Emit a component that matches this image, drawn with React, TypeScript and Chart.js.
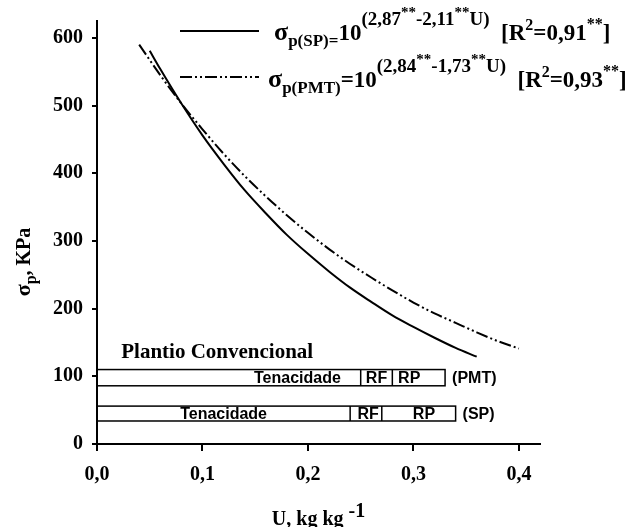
import React, { useEffect, useRef } from "react";
import { Chart, registerables } from "chart.js";

Chart.register(...registerables);

// ---- data ----
const uSP = [0.05, 0.06, 0.08, 0.1, 0.12, 0.14, 0.16, 0.18, 0.2, 0.22, 0.24, 0.26, 0.28, 0.3, 0.32, 0.34, 0.36];
const sigmaSP = [581, 554, 503, 456, 414, 375, 341, 309, 281, 255, 231, 210, 190, 173, 157, 142, 129];

const uPMT = [0.04, 0.06, 0.08, 0.1, 0.12, 0.14, 0.16, 0.18, 0.2, 0.22, 0.24, 0.26, 0.28, 0.3, 0.32, 0.34, 0.36, 0.38, 0.4];
const sigmaPMT = [590, 545, 503, 465, 429, 396, 366, 338, 312, 288, 266, 246, 227, 209, 193, 179, 165, 152, 141];

const xTicks = [0, 0.1, 0.2, 0.3, 0.4];
const xTickLabels = ["0,0", "0,1", "0,2", "0,3", "0,4"];
const yTicks = [0, 100, 200, 300, 400, 500, 600];
const xMax = 0.42;
const yMax = 625;

const zoneNames = ["Tenacidade", "RF", "RP"];
const zoneRowNames = ["(PMT)", "(SP)"];
const zoneBreaksPMT = [0, 0.25, 0.28, 0.33];
const zoneBreaksSP = [0, 0.24, 0.27, 0.34];
const zoneLabelUPMT = [0.19, 0.265, 0.296];
const zoneLabelUSP = [0.12, 0.257, 0.31];
const zoneBottom = [86, 34];
const zoneTop = [110, 56];

const panelTitle = "Plantio Convencional";

const SERIF = '"Liberation Serif", "Times New Roman", serif';
const SANS = '"Liberation Sans", Arial, sans-serif';

type Seg = { t: string; s: number; dy?: number; f?: string };

function drawRich(ctx: CanvasRenderingContext2D, x: number, y: number, segs: Seg[], align: "left" | "center") {
  let total = 0;
  for (const sg of segs) {
    ctx.font = `bold ${sg.s}px ${sg.f || SERIF}`;
    total += ctx.measureText(sg.t).width;
  }
  let cx = align === "center" ? x - total / 2 : x;
  ctx.textAlign = "left";
  ctx.textBaseline = "alphabetic";
  for (const sg of segs) {
    ctx.font = `bold ${sg.s}px ${sg.f || SERIF}`;
    ctx.fillText(sg.t, cx, y + (sg.dy || 0));
    cx += ctx.measureText(sg.t).width;
  }
}

const F = 23;
const SUB = 17;
const SUP = 19;
const SS = 15;
const R2 = 16;

function legendSegs(sub: string, exp1: string, exp2: string, r2: string): Seg[] {
  return [
    { t: "σ", s: F + 3 },
    { t: sub, s: SUB, dy: 6 },
    { t: sub.endsWith("=") ? "10" : "=10", s: F },
    { t: exp1, s: SUP, dy: -15 },
    { t: "**", s: SS, dy: -23 },
    { t: exp2, s: SUP, dy: -15 },
    { t: "**", s: SS, dy: -23 },
    { t: "U)", s: SUP, dy: -15 },
    { t: "  [R", s: F },
    { t: "2", s: R2, dy: -10 },
    { t: r2, s: F },
    { t: "**", s: R2, dy: -11 },
    { t: "]", s: F },
  ];
}

const legendSP = legendSegs("p(SP)=", "(2,87", "-2,11", "=0,91");
const legendPMT = legendSegs("p(PMT)", "(2,84", "-1,73", "=0,93");

const PMT_DASH = [12, 3, 2, 3, 2, 3];

const overlay = {
  id: "overlay",
  afterDraw(chart: any) {
    const ctx: CanvasRenderingContext2D = chart.ctx;
    const xs = chart.scales.x;
    const ys = chart.scales.y;
    ctx.save();
    ctx.fillStyle = "#000";
    ctx.strokeStyle = "#000";

    // zones
    const rows = [
      { breaks: zoneBreaksPMT, labelsU: zoneLabelUPMT },
      { breaks: zoneBreaksSP, labelsU: zoneLabelUSP },
    ];
    rows.forEach((r, i) => {
      const x0 = xs.getPixelForValue(r.breaks[0]);
      const x1 = xs.getPixelForValue(r.breaks[r.breaks.length - 1]);
      const yT = ys.getPixelForValue(zoneTop[i]);
      const yB = ys.getPixelForValue(zoneBottom[i]);
      ctx.lineWidth = 1.5;
      ctx.setLineDash([]);
      ctx.strokeRect(x0, yT, x1 - x0, yB - yT);
      for (let k = 1; k < r.breaks.length - 1; k++) {
        const xb = xs.getPixelForValue(r.breaks[k]);
        ctx.beginPath();
        ctx.moveTo(xb, yT);
        ctx.lineTo(xb, yB);
        ctx.stroke();
      }
      ctx.font = `bold 16px ${SANS}`;
      ctx.textAlign = "center";
      ctx.textBaseline = "middle";
      const yc = (yT + yB) / 2 + 1;
      zoneNames.forEach((n, k) => {
        ctx.fillText(n, xs.getPixelForValue(r.labelsU[k]), yc);
      });
      ctx.textAlign = "left";
      ctx.fillText(zoneRowNames[i], x1 + 7, yc);
    });

    // panel title
    ctx.font = `bold 21px ${SERIF}`;
    ctx.textAlign = "left";
    ctx.textBaseline = "alphabetic";
    ctx.fillText(panelTitle, xs.getPixelForValue(0.023), ys.getPixelForValue(127));

    // legend
    ctx.lineWidth = 2;
    ctx.setLineDash([]);
    ctx.beginPath();
    ctx.moveTo(180, 31);
    ctx.lineTo(259, 31);
    ctx.stroke();
    ctx.setLineDash(PMT_DASH);
    ctx.beginPath();
    ctx.moveTo(180, 77);
    ctx.lineTo(259, 77);
    ctx.stroke();
    ctx.setLineDash([]);
    drawRich(ctx, 274, 40, legendSP, "left");
    drawRich(ctx, 268, 87, legendPMT, "left");

    // x title
    drawRich(ctx, (chart.chartArea.left + chart.chartArea.right) / 2, 525, [
      { t: "U, kg kg ", s: 20 },
      { t: "-1", s: 20, dy: -8 },
    ], "center");

    // y title
    ctx.save();
    ctx.translate(30, 262);
    ctx.rotate(-Math.PI / 2);
    drawRich(ctx, 0, 0, [
      { t: "σ", s: 22 },
      { t: "p", s: 16, dy: 6 },
      { t: ", KPa", s: 20 },
    ], "center");
    ctx.restore();

    ctx.restore();
  },
};

export default function App() {
  const ref = useRef<HTMLCanvasElement>(null);
  useEffect(() => {
    const tickFont = { family: SERIF, size: 20, weight: "bold" as const };
    const chart = new Chart(ref.current!, {
      type: "line",
      data: {
        datasets: [
          {
            label: "SP",
            data: uSP.map((u, i) => ({ x: u, y: sigmaSP[i] })),
            borderColor: "#000",
            borderWidth: 2,
            pointRadius: 0,
            cubicInterpolationMode: "monotone",
            fill: false,
          },
          {
            label: "PMT",
            data: uPMT.map((u, i) => ({ x: u, y: sigmaPMT[i] })),
            borderColor: "#000",
            borderWidth: 2,
            borderDash: PMT_DASH,
            pointRadius: 0,
            cubicInterpolationMode: "monotone",
            fill: false,
          },
        ],
      },
      options: {
        responsive: false,
        devicePixelRatio: 1,
        animation: false,
        layout: { padding: { top: 16, right: 92, bottom: 0, left: 0 } },
        plugins: { legend: { display: false }, title: { display: false }, tooltip: { enabled: false } },
        scales: {
          x: {
            type: "linear",
            min: 0,
            max: xMax,
            afterFit: (s: any) => {
              s.height = 83;
            },
            afterBuildTicks: (s: any) => {
              s.ticks = xTicks.map((v) => ({ value: v }));
            },
            ticks: {
              color: "#000",
              font: tickFont,
              padding: 12,
              maxRotation: 0,
              callback: (_v: any, i: number) => xTickLabels[i],
            },
            grid: { display: true, drawOnChartArea: false, drawTicks: true, tickLength: 7, color: "#000", lineWidth: 2 },
            border: { display: true, color: "#000", width: 2 },
          },
          y: {
            type: "linear",
            min: 0,
            max: yMax,
            afterFit: (s: any) => {
              s.width = 97;
            },
            afterBuildTicks: (s: any) => {
              s.ticks = yTicks.map((v) => ({ value: v }));
            },
            ticks: {
              color: "#000",
              font: tickFont,
              padding: 9,
              callback: (v: any) => String(v),
            },
            grid: { display: true, drawOnChartArea: false, drawTicks: true, tickLength: 5, color: "#000", lineWidth: 2 },
            border: { display: true, color: "#000", width: 2 },
          },
        },
      },
      plugins: [overlay],
    });
    return () => chart.destroy();
  }, []);
  return (
    <div style={{ position: "absolute", left: 0, top: 0, width: 632, height: 527, background: "#fff" }}>
      <canvas ref={ref} width={632} height={527} style={{ display: "block", width: 632, height: 527 }} />
    </div>
  );
}
